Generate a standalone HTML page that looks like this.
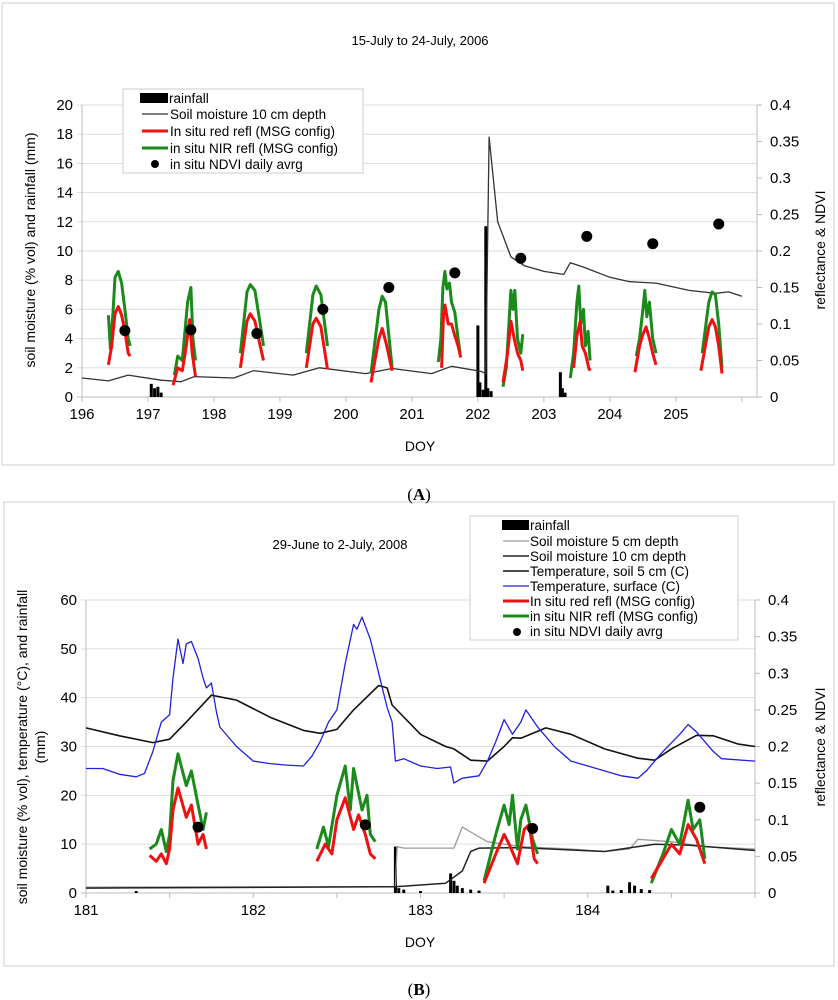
<!DOCTYPE html>
<html><head><meta charset="utf-8"><style>
body{margin:0;background:#fff;width:838px;height:1000px;overflow:hidden}
svg{display:block;font-family:"Liberation Sans",Arial,sans-serif}
</style></head><body>
<svg id="svg" width="838" height="1000" viewBox="0 0 838 1000">
<rect x="2" y="3" width="832" height="462" fill="none" stroke="#ccc"/>
<rect x="4" y="502" width="830" height="464" fill="none" stroke="#ccc"/>
<text x="420" y="45" font-size="13" text-anchor="middle">15-July to 24-July, 2006</text>
<text x="340" y="549" font-size="13" text-anchor="middle">29-June to 2-July, 2008</text>
<text x="419" y="500" font-size="17" font-family="Liberation Serif" text-anchor="middle">(<tspan font-weight="bold">A</tspan>)</text>
<text x="419" y="995" font-size="17" font-family="Liberation Serif" text-anchor="middle">(<tspan font-weight="bold">B</tspan>)</text>
<g id="ga"></g><g id="gb"></g>
</svg>
<script>
// ---- Panel A data ----
const aSoil10=[[196,1.3],[196.4,1.1],[196.7,1.5],[197.2,1.15],[197.5,1.05],[197.7,1.4],[198.3,1.3],[198.6,1.8],[199.2,1.5],[199.6,2.0],[200.3,1.6],[200.7,1.95],[201.3,1.6],[201.6,2.1],[202.05,1.75],[202.12,1.6],[202.17,17.8],[202.3,12],[202.5,9.6],[202.7,9],[203.0,8.6],[203.3,8.4],[203.4,9.2],[203.6,8.9],[204,8.2],[204.3,7.9],[204.7,7.8],[205.2,7.3],[205.6,7.1],[205.8,7.2],[206,6.9]];
const aNir=[
[[196.4,5.6],[196.43,3.3],[196.47,5.8],[196.5,8.2],[196.55,8.6],[196.6,7.8],[196.65,6.0],[196.7,4.0],[196.73,3.5]],
[[197.4,1.5],[197.45,2.8],[197.52,2.5],[197.55,4],[197.6,6.5],[197.65,7.5],[197.68,4],[197.72,2.5]],
[[198.4,3],[198.5,7.2],[198.55,7.7],[198.62,7.3],[198.7,5],[198.75,3.5]],
[[199.4,3],[199.5,7],[199.55,7.6],[199.62,7],[199.72,3.5]],
[[200.38,1.6],[200.5,6],[200.55,6.9],[200.6,6.5],[200.7,2]],
[[201.4,2.4],[201.44,4],[201.47,7.5],[201.5,8.6],[201.53,7.4],[201.57,7.8],[201.6,6.5],[201.65,5.8],[201.7,4],[201.73,3]],
[[202.38,0.7],[202.43,2],[202.47,5],[202.5,7.3],[202.53,6],[202.56,7.3],[202.6,4],[202.65,3],[202.68,4.3]],
[[203.4,1.3],[203.45,3],[203.5,6.5],[203.53,7.6],[203.56,5],[203.6,6],[203.63,3.5],[203.67,4.5],[203.7,2.5]],
[[204.4,2.8],[204.45,4],[204.5,6],[204.53,7.3],[204.56,5.5],[204.6,6.5],[204.65,4],[204.7,3]],
[[205.4,3],[205.5,6.5],[205.55,7.2],[205.6,7],[205.65,5],[205.7,2]]];
const aRed=[
[[196.4,2.2],[196.45,3.5],[196.5,5.7],[196.55,6.2],[196.6,5.6],[196.65,4.5],[196.7,3.0],[196.73,2.8]],
[[197.38,0.8],[197.45,2],[197.52,1.8],[197.58,3.5],[197.63,5.3],[197.67,3],[197.72,1.4]],
[[198.4,2],[198.5,5.2],[198.55,5.7],[198.62,5.2],[198.7,3.5],[198.75,2.5]],
[[199.4,2],[199.5,5],[199.55,5.4],[199.62,4.8],[199.72,1.9]],
[[200.38,1],[200.5,4],[200.55,4.7],[200.62,3.5],[200.7,1.8]],
[[201.45,2],[201.48,5.8],[201.5,6.3],[201.55,5],[201.6,5],[201.65,4.2],[201.7,3.5],[201.74,2.7]],
[[202.38,1],[202.45,3],[202.5,5.2],[202.55,4],[202.6,3],[202.65,2.5],[202.68,1.8]],
[[203.45,2],[203.5,4.2],[203.55,5.2],[203.58,3.5],[203.63,3],[203.68,2],[203.7,1.8]],
[[204.38,1.7],[204.45,3.5],[204.5,4.3],[204.55,4.8],[204.6,4],[204.65,3],[204.7,2.2]],
[[205.38,1.8],[205.5,4.8],[205.55,5.3],[205.6,4.8],[205.65,3.5],[205.7,1.6]]];
const aNdviDays=[196.65,197.65,198.65,199.65,200.65,201.65,202.65,203.65,204.65,205.65];
const aNdvi=[0.091,0.092,0.087,0.12,0.15,0.17,0.19,0.22,0.21,0.237];
const aRainDays=[197.05,197.1,197.15,197.2,202.0,202.03,202.08,202.12,202.15,202.2,203.25,203.28,203.32];
const aRain=[0.9,0.6,0.7,0.3,4.9,1,0.5,11.7,0.6,0.4,1.7,0.6,0.3];
const aLeftTicks=[0,2,4,6,8,10,12,14,16,18,20];
const aRightTicks=["0","0.05","0.1","0.15","0.2","0.25","0.3","0.35","0.4"];
const aXTicks=[196,197,198,199,200,201,202,203,204,205];
// ---- Panel B data ----
const bTsurf=[[181,25.5],[181.1,25.5],[181.2,24.3],[181.3,23.8],[181.35,24.5],[181.4,29],[181.45,35],[181.5,36.5],[181.52,44],[181.55,52],[181.58,47],[181.6,51],[181.63,51.5],[181.67,48],[181.7,44],[181.72,42],[181.75,43],[181.78,37],[181.8,34],[181.9,30],[182.0,27],[182.1,26.5],[182.2,26.2],[182.3,26],[182.35,28],[182.4,31],[182.45,35],[182.5,37.5],[182.55,47],[182.6,55],[182.62,54],[182.65,56.5],[182.7,52],[182.75,45],[182.8,38],[182.83,35],[182.85,27],[182.9,27.5],[183.0,26],[183.1,25.5],[183.18,25.8],[183.2,22.5],[183.25,23.5],[183.35,24],[183.4,27],[183.45,31],[183.5,35.5],[183.55,32.5],[183.6,35],[183.63,37.5],[183.67,35.5],[183.7,34],[183.75,32],[183.8,30],[183.9,27],[184.0,26],[184.1,25],[184.2,24],[184.3,23.5],[184.35,25],[184.45,29],[184.55,32.5],[184.6,34.5],[184.65,33],[184.7,31],[184.75,29],[184.8,27.5],[185,27]];
const bTsoil=[[181,33.8],[181.2,32.2],[181.4,30.8],[181.5,31.5],[181.6,35],[181.75,40.5],[181.9,39.5],[182.1,36],[182.3,33.3],[182.4,32.7],[182.5,33.5],[182.6,37.5],[182.75,42.5],[182.8,42],[182.83,38.5],[183.0,32.5],[183.15,30],[183.2,29.5],[183.3,27.2],[183.4,27],[183.5,30],[183.55,31.8],[183.6,31.7],[183.75,33.8],[183.9,32.5],[184.1,29.5],[184.3,27.6],[184.4,27.2],[184.5,29.5],[184.65,32.3],[184.75,32.2],[184.9,30.5],[185,30]];
const bSoil5=[[181,1.2],[182.85,1.3],[182.86,9.5],[182.9,9.2],[183.2,9.2],[183.25,13.5],[183.3,12.5],[183.4,10.5],[183.6,9.5],[183.9,9],[184.1,8.5],[184.25,9],[184.3,11],[184.5,10.5],[184.7,9.5],[185,9]];
const bSoil10=[[181,1],[182.85,1.3],[183.15,2],[183.25,4.5],[183.3,8.5],[183.35,9.2],[183.6,9.3],[183.9,8.8],[184.1,8.5],[184.3,9.5],[184.4,10],[184.6,9.8],[185,8.7]];
const bNir=[
[[181.38,9],[181.42,10],[181.45,13],[181.48,8.5],[181.5,12],[181.52,23],[181.55,28.5],[181.6,22],[181.63,25],[181.67,18],[181.7,13],[181.72,16.5]],
[[182.38,9],[182.42,13.5],[182.45,9.5],[182.5,20],[182.55,26],[182.58,17],[182.6,25.5],[182.65,17],[182.68,20],[182.7,12],[182.73,10.5]],
[[183.38,2.5],[183.45,12],[183.5,18],[183.53,14],[183.55,20],[183.58,9],[183.6,15],[183.63,18],[183.67,11],[183.7,8]],
[[184.38,2],[184.45,8],[184.5,13],[184.55,10],[184.6,19],[184.63,13],[184.67,15],[184.7,7]]];
const bRed=[
[[181.38,7.7],[181.42,6.5],[181.45,8],[181.48,6],[181.5,9],[181.52,17],[181.55,21.5],[181.6,15.5],[181.63,18],[181.67,10],[181.7,12],[181.72,9]],
[[182.38,6.5],[182.43,10],[182.47,8],[182.5,15],[182.55,19.5],[182.6,13],[182.63,16],[182.67,12],[182.7,8],[182.73,7]],
[[183.38,2],[183.45,8],[183.5,12],[183.53,10],[183.58,6],[183.62,13],[183.65,14],[183.68,7],[183.7,6]],
[[184.38,3],[184.45,7],[184.5,10],[184.55,8],[184.6,14],[184.65,11],[184.7,6]]];
const bNdviDays=[181.67,182.67,183.67,184.67];
const bNdvi=[0.09,0.093,0.088,0.117];
const bRainDays=[181.3,182.85,182.87,182.9,183.0,183.18,183.2,183.22,183.25,183.3,183.35,184.12,184.15,184.2,184.25,184.28,184.32,184.37];
const bRain=[0.4,9.5,1,0.7,0.4,4,2.5,1.5,1,0.7,0.5,1.5,0.5,0.6,2.2,1.5,0.8,0.6];
const bLeftTicks=[0,10,20,30,40,50,60];
const bRightTicks=["0","0.05","0.1","0.15","0.2","0.25","0.3","0.35","0.4"];
const bXTicks=[181,182,183,184];

const NS="http://www.w3.org/2000/svg";
function el(p,t,a){const e=document.createElementNS(NS,t);for(const k in a)e.setAttribute(k,a[k]);p.appendChild(e);return e;}
function panel(g,o){
  const X=v=>o.x0+(v-o.d0)/(o.d1-o.d0)*(o.x1-o.x0);
  const Y=v=>o.y0-(v/o.ymax)*(o.y0-o.y1);
  const YR=v=>o.y0-(v/0.4)*(o.y0-o.y1);
  o.left.forEach(t=>{
    const l=el(g,'line',{x1:o.x0-5,x2:o.x1,y1:Y(t),y2:Y(t),stroke:t===0?'#bbb':'#ddd'});
    
    
    const tx=el(g,'text',{x:o.x0-9,y:Y(t)+5,'font-size':15,'text-anchor':'end'});tx.textContent=t;
    
    
  });
  o.right.forEach((t,i)=>{
    const v=i*0.05;
    const l=el(g,'line',{x1:o.x1,x2:o.x1+5,y1:YR(v),y2:YR(v),stroke:'#bbb'});
    
    
    const tx=el(g,'text',{x:o.x1+13,y:YR(v)+5,'font-size':15});tx.textContent=t;
    
    
  });
  const ax=el(g,'path',{d:`M${o.x0},${o.y1}V${o.y0}M${o.x1},${o.y1}V${o.y0}`,stroke:'#bbb',fill:'none'});
  
  
  for(let d=o.d0;d<=o.d1+0.01;d+=o.minor){
    const l=el(g,'line',{x1:X(d),x2:X(d),y1:o.y0,y2:o.y0+5,stroke:'#bbb'});
    
    
  }
  o.xt.forEach(t=>{
    const tx=el(g,'text',{x:X(t),y:o.y0+22,'font-size':15,'text-anchor':'middle'});tx.textContent=t;
    
    
  });
  const dx=el(g,'text',{x:o.doyX,y:o.y0+54,'font-size':14,'text-anchor':'middle'});dx.textContent='DOY';
  
  
  const line=(pts,c,w,name,yf)=>{const p=el(g,'polyline',{points:pts.map(q=>X(q[0]).toFixed(1)+','+(yf||Y)(q[1]).toFixed(1)).join(' '),fill:'none',stroke:c,'stroke-width':w,'stroke-linejoin':'round'});
    
    };
  o.rainD.forEach((d,i)=>{
    const r=el(g,'rect',{x:X(d)-1.5,y:Y(o.rain[i]),width:3,height:Y(0)-Y(o.rain[i]),fill:'#000'});
    
    
  });
  o.lines.forEach(s=>line(s[0],s[1],s[2],s[3]));
  o.nir.forEach(s=>line(s,'#1a8a1a',3,'nir-refl-line'));
  o.red.forEach(s=>line(s,'#f01010',3,'red-refl-line'));
  o.ndviD.forEach((d,i)=>{
    const c=el(g,'circle',{cx:X(d),cy:YR(o.ndvi[i]),r:5.5,fill:'#000'});
    
    
  });
}
const ga=document.getElementById('ga'),gb=document.getElementById('gb');
panel(ga,{x0:82,x1:757,d0:196,d1:206.23,y0:397,y1:105,ymax:20,left:aLeftTicks,right:aRightTicks,xt:aXTicks,minor:1,doyX:420,
 rainD:aRainDays,rain:aRain,lines:[[aSoil10,'#333',1.3,'soil-moisture-10cm-line']],nir:aNir,red:aRed,ndviD:aNdviDays,ndvi:aNdvi});
panel(gb,{x0:86,x1:755,d0:181,d1:185,y0:893,y1:600,ymax:60,left:bLeftTicks,right:bRightTicks,xt:bXTicks,minor:0.5,doyX:420,
 rainD:bRainDays,rain:bRain,lines:[[bSoil5,'#999',1.3,'soil-moisture-5cm-line'],[bSoil10,'#222',1.5,'soil-moisture-10cm-line'],[bTsoil,'#111',1.6,'soil-temperature-line'],[bTsurf,'#2020e0',1.3,'surface-temperature-line']],nir:bNir,red:bRed,ndviD:bNdviDays,ndvi:bNdvi});
</script>
<!-- axis titles -->
<svg style="position:absolute;left:0;top:0" width="838" height="1000">
<text transform="translate(35,250) rotate(-90)" font-size="14" text-anchor="middle">soil moisture (% vol) and rainfall (mm)</text>
<text transform="translate(825,250) rotate(-90)" font-size="14" text-anchor="middle">reflectance &amp; NDVI</text>
<text transform="translate(27,747) rotate(-90)" font-size="14" text-anchor="middle">soil moisture (% vol), temperature (°C), and rainfall</text>
<text transform="translate(45,747) rotate(-90)" font-size="14" text-anchor="middle">(mm)</text>
<text transform="translate(825,747) rotate(-90)" font-size="14" text-anchor="middle">reflectance &amp; NDVI</text>
<g font-size="13.5">
<rect x="123" y="89" width="240" height="84" fill="#fff" stroke="#ccc"/>
<rect x="140" y="93" width="28" height="10" fill="#000"/><text x="169" y="103">rainfall</text>
<line x1="142" x2="168" y1="114" y2="114" stroke="#333" stroke-width="1.3"/><text x="170" y="119">Soil moisture 10 cm depth</text>
<line x1="142" x2="168" y1="131" y2="131" stroke="#f01010" stroke-width="3"/><text x="170" y="136">In situ red refl (MSG config)</text>
<line x1="142" x2="168" y1="148" y2="148" stroke="#1a8a1a" stroke-width="3"/><text x="170" y="153">in situ NIR refl (MSG config)</text>
<circle cx="155" cy="164" r="4" fill="#000"/><text x="170" y="169">in situ NDVI daily avrg</text>
</g>
<g font-size="13.5">
<rect x="470" y="516" width="268" height="124" fill="#fff" stroke="#ccc"/>
<rect x="502" y="520" width="27" height="10" fill="#000"/><text x="530" y="530">rainfall</text>
<line x1="503" x2="529" y1="541" y2="541" stroke="#999" stroke-width="1.3"/><text x="530" y="546">Soil moisture 5 cm depth</text>
<line x1="503" x2="529" y1="556" y2="556" stroke="#222" stroke-width="1.5"/><text x="530" y="561">Soil moisture 10 cm depth</text>
<line x1="503" x2="529" y1="571" y2="571" stroke="#111" stroke-width="1.5"/><text x="530" y="576">Temperature, soil 5 cm (C)</text>
<line x1="503" x2="529" y1="586" y2="586" stroke="#2020e0" stroke-width="1.3"/><text x="530" y="591">Temperature, surface (C)</text>
<line x1="503" x2="529" y1="601" y2="601" stroke="#f01010" stroke-width="3"/><text x="530" y="606">In situ red refl (MSG config)</text>
<line x1="503" x2="529" y1="616" y2="616" stroke="#1a8a1a" stroke-width="3"/><text x="530" y="621">in situ NIR refl (MSG config)</text>
<circle cx="517" cy="632" r="4" fill="#000"/><text x="530" y="636">in situ NDVI daily avrg</text>
</g>
</svg>
</body></html>
